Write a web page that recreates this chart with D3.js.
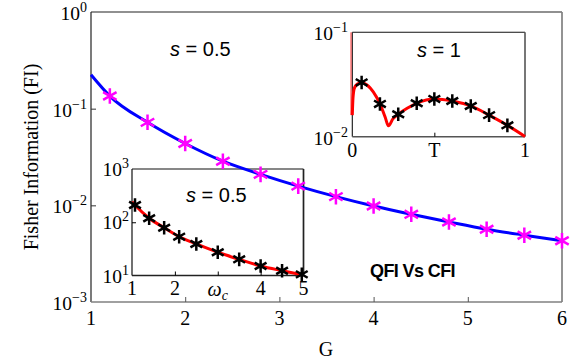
<!DOCTYPE html>
<html>
<head>
<meta charset="utf-8">
<script src="https://cdnjs.cloudflare.com/ajax/libs/d3/7.8.5/d3.min.js"></script>
<style>
  body { margin: 0; background: #fff; }
  svg { display: block; }
</style>
</head>
<body>
<script>
// main panel: QFI (blue line) vs CFI (magenta stars), s = 0.5
var qfiG = [1, 1.2, 1.6, 2.0, 2.4, 2.8, 3.2, 3.6, 4.0, 4.4, 4.8, 5.2, 5.6, 6.0];
var qfiVals = [0.224, 0.135, 0.0722, 0.0436, 0.0286, 0.0209, 0.0158, 0.0123, 0.00984, 0.00807, 0.00673, 0.00566, 0.00491, 0.0043];
var cfiG = [1.2, 1.6, 2.0, 2.4, 2.8, 3.2, 3.6, 4.0, 4.4, 4.8, 5.2, 5.6, 6.0];
var cfiVals = [0.135, 0.0722, 0.0436, 0.0286, 0.0209, 0.0158, 0.0123, 0.00984, 0.00807, 0.00673, 0.00566, 0.00491, 0.0043];
var mainXTicks = [1, 2, 3, 4, 5, 6];
var mainYTicks = [1, 0.1, 0.01, 0.001];
var mainYExps = ["0", "\u22121", "\u22122", "\u22123"];

// lower inset: FI vs omega_c, s = 0.5
var omegaCurve = [1, 1.07, 1.4, 1.75, 2.1, 2.5, 3.0, 3.5, 4.0, 4.5, 5.0];
var omegaCurveVals = [243, 211, 119, 79, 53.6, 39.1, 27.3, 20.1, 15.1, 12.3, 10.2];
var omegaStars = [1.07, 1.4, 1.75, 2.1, 2.5, 3.0, 3.5, 4.0, 4.5, 4.96];
var omegaStarVals = [211, 119, 79, 53.6, 39.1, 27.3, 20.1, 15.1, 12.3, 10.5];
var inset1XTicks = ["1", "2", "", "4", "5"];
var inset1YTicks = [1000, 100, 10];
var inset1YExps = ["3", "2", "1"];

// upper inset: FI vs time, s = 1
var tCurve = [0, 0.004, 0.012, 0.03, 0.055, 0.085, 0.105, 0.14, 0.16, 0.19, 0.209, 0.235, 0.266, 0.32, 0.373, 0.475, 0.579, 0.686, 0.792, 0.898, 1.0];
var tCurveVals = [0.0161, 0.0235, 0.0292, 0.032, 0.0331, 0.0313, 0.0291, 0.024, 0.0206, 0.01545, 0.0127, 0.0148, 0.0164, 0.0188, 0.0209, 0.023, 0.022, 0.0197, 0.0161, 0.01285, 0.01005];
var tStars = [0.054, 0.16, 0.266, 0.373, 0.475, 0.579, 0.686, 0.792, 0.898];
var tStarVals = [0.0331, 0.0206, 0.0164, 0.0209, 0.023, 0.022, 0.0197, 0.0161, 0.01285];
var tSpike = [0, 0];
var tSpikeVals = [0.1, 0.0161];
var inset2YTicks = [0.1, 0.01];
var inset2YExps = ["\u22121", "\u22122"];

var serif = "'Liberation Serif', 'Times New Roman', serif";
var sans = "'Liberation Sans', Arial, Helvetica, sans-serif";

var svg = d3.select("body").append("svg")
    .attr("width", 586)
    .attr("height", 364);

var x = d3.scaleLinear().domain([1, 6]).range([91, 562]);
var y = d3.scaleLog().domain([0.001, 1]).range([302, 12]);
var x1 = d3.scaleLinear().domain([1, 5]).range([132, 303.5]);
var y1 = d3.scaleLog().domain([10, 1000]).range([275.5, 169]);
var x2 = d3.scaleLinear().domain([0, 1]).range([352.3, 525]);
var y2 = d3.scaleLog().domain([0.01, 0.1]).range([136.7, 32.3]);

function powLabel(xp, yp, exp, size) {
    var t = svg.append("text")
        .attr("x", xp)
        .attr("y", yp)
        .attr("text-anchor", "end")
        .style("font-family", serif)
        .style("font-size", size + "px");
    t.append("tspan").text("10");
    t.append("tspan")
        .attr("dy", -8)
        .style("font-size", Math.round(size * 0.72) + "px")
        .text(exp);
}

function frame(xs, ys, leftCol, botCol, w) {
    var x0 = xs.range()[0], xN = xs.range()[1];
    var yb = ys.range()[0], yt = ys.range()[1];
    svg.append("line").attr("x1", x0).attr("x2", xN).attr("y1", yt).attr("y2", yt)
        .attr("stroke", leftCol).attr("stroke-width", w);
    svg.append("line").attr("x1", x0).attr("x2", x0).attr("y1", yt).attr("y2", yb)
        .attr("stroke", leftCol).attr("stroke-width", w);
    svg.append("line").attr("x1", x0).attr("x2", xN).attr("y1", yb).attr("y2", yb)
        .attr("stroke", botCol).attr("stroke-width", w + 0.5);
    svg.append("line").attr("x1", xN).attr("x2", xN).attr("y1", yt).attr("y2", yb)
        .attr("stroke", botCol).attr("stroke-width", w + 0.5);
}

function stars(xs, ys, xv, yv, col, size, sw) {
    svg.append("g").selectAll("path")
        .data(xv)
        .enter().append("path")
        .attr("d", d3.symbol().type(d3.symbolAsterisk).size(size))
        .attr("transform", function(d, i) { return "translate(" + xs(d) + "," + ys(yv[i]) + ")"; })
        .attr("fill", "none")
        .attr("stroke", col)
        .attr("stroke-width", sw);
}

function curve(xs, ys, xv, yv, col, sw) {
    var pts = xv.map(function(d, i) { return [xs(d), ys(yv[i])]; });
    svg.append("path")
        .attr("d", d3.line().curve(d3.curveMonotoneX)(pts))
        .attr("fill", "none")
        .attr("stroke", col)
        .attr("stroke-width", sw)
        .attr("stroke-linejoin", "round");
}

// ---- main panel
frame(x, y, "#222", "#808080", 1.2);

// inward ticks
svg.append("g")
    .attr("transform", "translate(0,302)")
    .call(d3.axisBottom(x).tickValues([2, 3, 4, 5]).tickSizeInner(-5).tickSizeOuter(0).tickFormat(""))
    .call(function(g) { g.select(".domain").remove(); g.selectAll("line").attr("stroke", "#555"); });
svg.append("g")
    .attr("transform", "translate(91,0)")
    .call(d3.axisLeft(y).tickValues([0.1, 0.01]).tickSizeInner(-5).tickSizeOuter(0).tickFormat(""))
    .call(function(g) { g.select(".domain").remove(); g.selectAll("line").attr("stroke", "#333"); });

svg.append("g").selectAll("text")
    .data(mainXTicks)
    .enter().append("text")
    .attr("x", function(d) { return x(d); })
    .attr("y", 325)
    .attr("text-anchor", "middle")
    .style("font-family", serif)
    .style("font-size", "20px")
    .text(function(d) { return d; });

mainYTicks.forEach(function(v, i) { powLabel(87, y(v) + 8, mainYExps[i], 19.5); });

svg.append("text")
    .attr("x", 326)
    .attr("y", 356)
    .attr("text-anchor", "middle")
    .style("font-family", serif)
    .style("font-size", "20px")
    .text("G");

svg.append("text")
    .attr("transform", "translate(38,157) rotate(-90)")
    .attr("text-anchor", "middle")
    .style("font-family", serif)
    .style("font-size", "20px")
    .text("Fisher Information (FI)");

var s1 = svg.append("text")
    .attr("x", 170)
    .attr("y", 56)
    .style("font-family", sans)
    .style("font-size", "20px");
s1.append("tspan").style("font-style", "italic").text("s");
s1.append("tspan").text(" = 0.5");

svg.append("text")
    .attr("x", 370)
    .attr("y", 277)
    .style("font-family", sans)
    .style("font-size", "18px")
    .style("font-weight", "bold")
    .style("letter-spacing", "-0.6px")
    .text("QFI Vs CFI");

// ---- lower inset
frame(x1, y1, "#111", "#222", 1.2);
svg.append("g")
    .attr("transform", "translate(0,275.5)")
    .call(d3.axisBottom(x1).tickValues([2, 3, 4]).tickSizeInner(-4).tickSizeOuter(0).tickFormat(""))
    .call(function(g) { g.select(".domain").remove(); });
svg.append("g")
    .attr("transform", "translate(132,0)")
    .call(d3.axisLeft(y1).tickValues([100]).tickSizeInner(-4).tickSizeOuter(0).tickFormat(""))
    .call(function(g) { g.select(".domain").remove(); });

svg.append("g").selectAll("text")
    .data(inset1XTicks)
    .enter().append("text")
    .attr("x", function(d, i) { return x1(i + 1); })
    .attr("y", 295)
    .attr("text-anchor", "middle")
    .style("font-family", serif)
    .style("font-size", "20px")
    .text(function(d) { return d; });

var om = svg.append("text")
    .attr("x", x1(3))
    .attr("y", 296)
    .attr("text-anchor", "middle")
    .style("font-family", serif)
    .style("font-size", "20px")
    .style("font-style", "italic");
om.append("tspan").text("\u03c9");
om.append("tspan").attr("dy", 4).style("font-size", "14px").text("c");

inset1YTicks.forEach(function(v, i) { powLabel(129, y1(v) + 7, inset1YExps[i], 19.5); });

var s2 = svg.append("text")
    .attr("x", 186)
    .attr("y", 202)
    .style("font-family", sans)
    .style("font-size", "20px");
s2.append("tspan").style("font-style", "italic").text("s");
s2.append("tspan").text(" = 0.5");

curve(x1, y1, omegaCurve, omegaCurveVals, "#ff0000", 3);
stars(x1, y1, omegaStars, omegaStarVals, "#000", 130, 2.5);

// ---- upper inset
frame(x2, y2, "#111", "#555", 1.1);
svg.append("g")
    .attr("transform", "translate(0,136.7)")
    .call(d3.axisBottom(x2).tickValues([0.475]).tickSizeInner(-4).tickSizeOuter(0).tickFormat(""))
    .call(function(g) { g.select(".domain").remove(); });

svg.append("g").selectAll("text")
    .data([[0, "0"], [0.475, "T"], [1, "1"]])
    .enter().append("text")
    .attr("x", function(d) { return x2(d[0]); })
    .attr("y", 157)
    .attr("text-anchor", "middle")
    .style("font-family", serif)
    .style("font-size", "20px")
    .text(function(d) { return d[1]; });

inset2YTicks.forEach(function(v, i) { powLabel(348, y2(v) + 8, inset2YExps[i], 19.5); });

var s3 = svg.append("text")
    .attr("x", 417)
    .attr("y", 57)
    .style("font-family", sans)
    .style("font-size", "20px");
s3.append("tspan").style("font-style", "italic").text("s");
s3.append("tspan").text(" = 1");

svg.append("line")
    .attr("x1", x2(tSpike[0]) - 1.3).attr("x2", x2(tSpike[1]) - 1.3)
    .attr("y1", y2(tSpikeVals[0])).attr("y2", y2(tSpikeVals[1]))
    .attr("stroke", "#ff0000")
    .attr("stroke-width", 0.8);
curve(x2, y2, tCurve, tCurveVals, "#ff0000", 3);
stars(x2, y2, tStars, tStarVals, "#000", 130, 2.5);

// ---- main data on top of the insets
curve(x, y, qfiG, qfiVals, "#0000ff", 3);
stars(x, y, cfiG, cfiVals, "#ff00ff", 170, 2.5);
</script>
</body>
</html>
